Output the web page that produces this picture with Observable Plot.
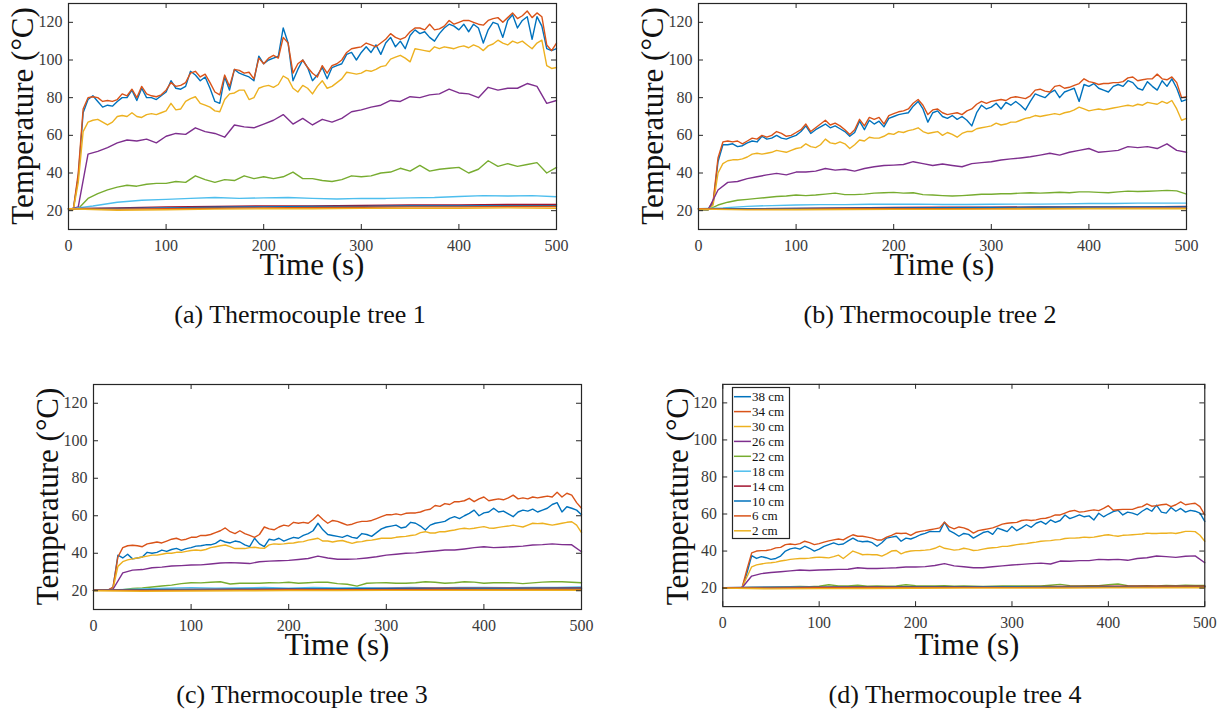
<!DOCTYPE html>
<html><head><meta charset="utf-8">
<script src="https://cdn.jsdelivr.net/npm/d3@7"></script>
<script src="https://cdn.jsdelivr.net/npm/@observablehq/plot@0.6"></script>
<style>
html,body{margin:0;padding:0;background:#fff;}
#page{position:relative;width:1228px;height:711px;overflow:hidden;background:#fff;font-family:"Liberation Serif","Times New Roman",serif;}
#page svg, #page svg text{font-family:"Liberation Serif","Times New Roman",serif !important;}
.panel{position:absolute;}
#overlay{position:absolute;left:0;top:0;}
</style></head><body><div id="page"></div>
<script>
// ---------- series labels, colours, sampling steps (s) ----------
const seriesNames = ["38 cm","34 cm","30 cm","26 cm","22 cm","18 cm","14 cm","10 cm","6 cm","2 cm"];
const seriesColors = ["#0072BD","#D95319","#EDB120","#7E2F8E","#77AC30","#4DBEEE","#A2142F","#0072BD","#D95319","#EDB120"];
const seriesSteps = [5,5,5,10,10,25,50,50,50,50];
const xTicks = [0,100,200,300,400,500];
const yTicks = [20,40,60,80,100,120];
const captions = ["(a) Thermocouple tree 1","(b) Thermocouple tree 2","(c) Thermocouple tree 3","(d) Thermocouple tree 4"];

// ---------- Tree 1 ----------
const a38 = [21,21,38,72,79,81,78,75,76,75.5, 78,80,80,84,78.5,85,80,80,79,81, 83,89,85,84.5,86,94,92,89,91,85, 78,77,91,84,95,93,92,91,89,102, 98,100,101,102,117,109,89,95,100,96, 89,92,96,90,96,97,98,103,104,100, 104,107,104,108,103,109,112,107,110,106, 113,116,114,115,112,110,114,117,119,118, 116,119,115,119,117,109,116,120,119,112, 121,124,117,121,123,111,123,118,106,105, 106];
const a34 = [21,21,40,74,80,80.5,80,78,78.5,78, 79,82,81,84.5,80,86,82,81,80.5,81.5, 84,88,86,86.5,88,93,94,91,92.5,88, 83,81.5,92,86,95,94.5,93,93.5,90,101, 98,101,102.5,101,112,109,93,98,100,96, 93,91,97,93,97,98,100,104,106,106.5, 107,109,108,107,109,111,114,112,111,112, 115,117,117,116,119,116,116.5,118,121,119, 120,121,121,120,119,118.5,121,122,122.5,120, 122.5,125,122,123.5,126,122.5,125,123,108,105, 109];
const a30 = [20.5,20.5,35,62,67,68,68.5,67,65.5,67, 70,70.5,70,72,70,69.5,71,71.5,71,72, 73,77,73.5,74,78,79.5,80.5,77,76,75, 73,72.5,79,82,82.5,84,84,79,80,85, 86,86.5,85.5,87,91.5,90,85,83,86.5,85, 82,86,89,85,86,88,90,93.5,93,92.5, 93,94.5,94,95,96.5,97,100.5,101.5,102.5,101, 99,106,105.5,105,104.5,107,106,107,106.5,106, 107,107.5,106.5,108,107,105,107.5,108.5,110.5,109, 108,110,109,110,108,106,109,110.5,97,95.5, 96];
const a26 = [20.5,22,50,51.5,53.5,56,57.5,57,58,56, 59.5,61,60.5,64,62,61,59,65.5,64.5,64, 66,68,71,66,69,65.5,68.5,67,69,72.5, 73.5,75,76,78.5,78,80.5,80,81.5,82,84.5, 82.5,82,80,85.5,84,85,85,87.5,86,77, 78.5];
const a22 = [20.5,21,26.5,29,31,32.5,33.5,33,34,34.5, 34.5,35.5,35,38.5,36.5,35,36.5,36,38.5,37, 38,37,38,40.5,37,37,36,35.5,36.5,38.5, 38,38.5,40,40.5,42.5,41,44,41,42,42.5, 43,40,42,46.5,43.5,45,43.5,44.5,45.5,40, 43];
const a18 = [20.8,22.5,24.5,25.5,26,26.5,27,26.5,26.8,27,26.5,26.2,26.5,26.5,26.8,27,27.5,28,27.8,28,27.4];
const a14 = [21,21.5,22,22.3,22.5,22.5,22.8,23,23,23.3,23.3];
const a10 = [21,21.2,21.5,21.8,22,22.2,22.3,22.5,22.5,22.6,22.6];
const a6  = [21,20.8,21,21.3,21.5,21.7,21.8,22,22,22.2,22.2];
const a2  = [21,20.2,20.5,20.8,21,21,21.2,21.3,21.3,21.5,21.3];

// ---------- Tree 2 ----------
const b38 = [21,21,21,24,46,55,55,55.5,54,54.5, 56,57,56.5,59.5,58,58.5,60,58.5,58,59, 60,62,65,61,63,64.5,66,64,65,63.5, 62,59.5,61.5,67.5,63,68,66,67.5,64.5,69, 70,71,71.5,72,75.5,78,74,67,72,73, 70,69,70.5,68.5,70,68,65,72,76,74, 75,77,74,77.5,76,78,76,73.5,78,82, 81,80,82.5,84,80,83,84,85,78,87, 86,87.5,85,84,83,86,87,86,89,88, 85,84,88.5,86,84,89,86,90,85,78, 79];
const b34 = [21,21,21,25,48,56.5,57,56.5,57,55.5, 57,58.5,58,60,59,60,62,61,59.5,60, 61.5,63,66,62,64,66,68,65.5,66.5,65, 63,60.5,63,68.5,65,69.5,68.5,69.5,66,70.5, 71.5,72.5,73,74,77,79,76,71,73.5,74, 72,71,71.5,72,71,73,74,76.5,78,77, 78,78.5,79,78.5,80,80.5,80,79.5,81,84, 84.5,83.5,83,86,86.5,85,85.5,86.5,87.5,90, 88.5,88,87,87.5,87.5,88,88,88.5,90.5,91, 89,89.5,90,90,92.5,90,89.5,91,88,80, 80.5];
const b30 = [20.5,20.5,20.5,23,40,45,46.5,47,47,47.5, 48.5,50,50.5,50,50.5,51,52,51.5,51,52, 53,53.5,55.5,54,53.5,55,58,56,55.5,56.5, 55.5,53,55,57.5,57,59,58.5,58.5,59.5,61, 60.5,62,61.5,62.5,63,64,62,61,61.5,62, 60,61.5,60.5,59,61,62,62,63.5,64,64.5, 65,66.5,65.5,66,67,67,68,69,69.5,70.5, 70,70.5,71,71.5,71,72,72.5,73.5,75,74, 73,73.5,74,73.5,74,74.5,75,75.5,76,75.5, 76.5,76,77.5,77,76.5,78,77,78.5,74,68, 69];
const b26 = [20.5,20.5,31,35,35.5,37,38,39,39.8,39, 40.5,40.5,41,42.4,41.5,42,41,42.4,43.3,44, 44.2,44.5,46,45,44,44.8,44,43.3,45,45.5, 46,46.9,47.5,48,48.6,49.5,50.5,49.5,51,52, 53,51,51.5,52,54,53.5,54,53,55.5,52, 51];
const b22 = [20.5,20.5,23,24.5,25.5,26,26.5,27,27.5,27.8, 28.3,28,28.3,28.8,29.3,28.5,28.5,28.8,29.3,29.5, 29.7,29.3,29.5,28.5,28.3,28,27.8,28,28.3,28.7, 28.7,29,29,29.3,29.5,29.3,29.5,29.8,29.5,30, 30,29.7,29.5,30,30.4,30.2,30.3,30.5,30.8,30.5, 28.8];
const b18 = [21,21.5,22.3,22.7,23,23.2,23.2,23.4,23.4,23.5,23.3,23.3,23.4,23.5,23.5,23.6,23.8,23.8,24,24,24];
const b14 = [21,21,21.2,21.5,21.7,21.8,21.8,22,22,22,22.2];
const b10 = [21,21,21.2,21.3,21.5,21.6,21.7,21.8,21.9,22,22];
const b6  = [21,20.7,20.8,21,21,21,21.1,21.2,21.2,21.3,21.3];
const b2  = [20.8,20.4,20.5,20.6,20.7,20.7,20.8,20.9,21,21,21];

// ---------- Tree 3 ----------
const c38 = [20.3,20.3,20.3,20.3,21.5,39,37.5,39.5,37,37.5, 38,40.5,40,40.5,41.7,41,42,42.6,41.5,42.5, 43,43.8,44,44.5,44.5,45.3,47,46,45.5,46.5, 46,44.5,43.5,48,45,43.5,47.5,47,48,46.5, 47.5,48.5,48,49.5,50.5,52,56,52.5,50,49.5, 49,48.5,49.5,48.5,48,50.5,50,49,51,53, 54,54.5,55,53.5,54,56.5,56,54.5,52.4,55, 56,56.5,57,58.6,59.5,58.5,60,61.3,63,60, 61.5,62,64,62,62.5,61,59.5,62,63,62.5, 63.5,62,63,64,66,67,62,64.8,64,63, 60.5];
const c34 = [20.3,20.3,20.3,20.3,22,38,43,44,44.3,44, 43.5,45,45.5,46,45.5,46.5,47.5,48,47,47.5, 48.5,48.5,49.5,49.5,50,51,52,53.5,51.5,50.5, 52,50.5,49.5,48.5,50,54,53,52.5,54,55, 54.5,56.5,56,56.5,56,58,60.5,58,56,57.5, 57,56,55,55.5,56.5,57,57,57.5,58.5,59.5, 60.5,60.5,61,60.5,61.3,61.5,61.5,62,63,63.5, 65.5,65,66.5,66,67.5,67.5,68,69.3,67.5,69, 70,68,68.5,69,68.5,69.5,71,69,69.5,69, 70,69.5,70,70.5,70,72.5,70,72,71,67, 64];
const c30 = [20.3,20.3,20.3,20.3,21,33,35.5,36.5,37,37.5, 38,38.5,39,39,39.5,40,40,40.5,40.5,41, 41.5,41.7,41.5,42,43,43.5,44,44.4,43.5,42.5, 42.5,42.5,43,43.2,42.8,42.6,44.5,45,44.8,45, 45.3,45.5,46,46.2,47,47.5,48,46.5,46.5,46, 46.5,46.8,46,45.3,46,46.2,46.8,47,47.5,48, 48,48,48.5,48.8,49,49.5,49.8,51,51.5,50.8, 50.8,51.5,51.5,52,52.4,53,53.3,53,53.3,53.8, 54.2,53.5,53.3,53.8,54.2,54.5,55,54.5,54,55, 56,55.8,56,55.5,55,55.5,56,56.5,56.8,55, 51];
const c26 = [20.3,20.3,20.8,29.5,31,31.3,32.3,32.6,33.2,33.4, 33.7,33.8,34.3,34.8,35,34.8,34.5,35.5,35.8,36, 36.2,36.7,37.2,38.5,37.5,36.8,36.8,37,37.5,38.1, 39,39.5,40,40.2,40.8,41.2,41.7,41.7,42.3,43, 43.5,43,43.2,43.5,43.8,44.4,44.6,45,44.6,44.5, 40.8];
const c22 = [20.3,20.3,20.3,20.6,21.2,21.5,22,22.5,23,23.8, 24.3,24.2,24.5,24.8,23.6,24,24,24,24.3,24.2, 24.5,24,24.3,24.6,24.5,23.8,23.5,22.5,24,24.2, 24.3,24,24,24.3,24.8,24.5,24,24.3,24.8,24.6, 24,24.3,24.3,24.2,23.8,24.2,24.6,24.8,24.8,24.5, 24.3];
const c18 = [20.3,20.5,21,21.3,21.6,21.4,21.5,21.7,21.4,21.8,21.5,21.6,21.5,21.8,21.5,21.7,21.8,21.6,21.8,21.7,22];
const c14 = [20.3,20.5,20.7,20.8,21,21,21.2,21.3,21.3,21.4,21.5];
const c10 = [20.3,20.4,20.6,20.8,20.8,20.9,21,21,21.1,21.2,21.2];
const c6  = [20.3,20.2,20.3,20.4,20.5,20.5,20.6,20.7,20.7,20.8,20.8];
const c2  = [20,19.7,19.9,20,20.1,20.1,20.2,20.2,20.3,20.3,20.3];

// ---------- Tree 4 ----------
const d38 = [20.2,20.2,20.2,20.2,20.2,28,37.5,36,37,36.4, 35.5,36,37.3,40,41.2,41.7,41,42.6,41.5,40, 41,42.5,43.5,44.4,43.5,43.8,45.5,47,45.5,45, 45.3,44.5,42.6,44.5,47,47.5,48,45.3,47,46.5, 47.5,48.8,49.5,50.6,50.5,50.5,55.6,51,49.7,48, 49.5,49,47,48.5,50,50.6,49,52.4,51.5,50.5, 53.3,51,52.5,54.2,52.8,55,56,54.5,56.8,55.5, 56.5,59.5,57.5,58.5,59.5,58.5,59,56.8,60.4,58.5, 60,61.3,62,59.5,61,60.5,59.5,61.5,63,61.5, 64.8,61,60.5,63.5,61.5,63,61,62,61.5,60.5, 56];
const d34 = [20.2,20.2,20.2,20.2,20.2,30,39,40,40.2,40.3, 40.8,41.7,42,43.5,43.8,43.5,44,45.3,44.5,43.5, 44,44.8,45.5,46,46.5,46,47.5,48.8,48,48, 47.5,47,46,46,47.5,48.5,49.7,49.5,49.7,48.5, 50,50.6,51,51.5,52,52.5,55.6,53,52,53, 52.5,51.5,49.7,51,51.5,52,52.5,53.5,54.5,55, 55.3,55.5,56.5,56.8,56.5,56.8,57.5,57.7,58.5,59.5, 59.5,60.5,61.5,62,61,61.3,61.8,62.2,61.8,63, 64.5,62,62.3,62.5,62.5,62.5,63.5,64,65.5,64.2, 64.5,65,65.3,64,65,66.5,65,65.5,65.8,64, 59.5];
const d30 = [20.2,20.2,20.2,20.2,20.2,26,31.5,32.5,33,33.5, 33.7,34,34.6,35,35.5,35.8,36,36,36.2,36.5, 36.7,36.5,36.3,37,37.8,36,38,40,39,38, 38.2,38,38,37.3,38.5,40,40.3,38.5,39.5,40, 40.2,40.3,40.5,40.8,41.5,42.6,41.5,41,40.5,40.8, 41.5,41,40.3,40.5,41,41.5,41.8,42,42.5,42.5, 43,43.5,43.8,44,44.5,44.8,45.3,45.5,45.6,46, 46.2,46.8,47,47,47.2,47.5,47.3,47.5,48,48.5, 48.8,48.3,48,48.5,48.6,48.8,49,49.2,49.7,49.5, 49.5,49.7,49.6,49.8,49.5,50,50.6,50.6,50.5,48.5, 45.3];
const d26 = [20.2,20.2,20.2,26.5,27.8,28.4,28.8,29.3,29.8,29.5, 29.8,29.9,30.1,30.2,31,30.6,30.6,30.8,31,31.4, 31.4,31.6,32.2,33.2,32,31.5,31,31,31.5,32, 32.5,32.8,33.2,33.5,33,34.6,34.5,34.8,34.8,35.5, 35.3,35.5,35,36,36.4,37.3,37,36.6,37.2,37.4, 33.7];
const d22 = [20.2,20.2,20.2,20.3,20.3,20.5,20.6,20.8,20.9,20.8, 21,21.8,21.2,21.2,21.5,21,21.2,21,21.2,21.8, 21.3,21.2,21.1,21.3,21,21.1,21,20.9,21,21.1, 21.2,21.1,21.2,21.1,21.5,22,21.3,21.2,21.3,21.3, 21.8,22.2,21.3,21.2,21.3,21.2,21.4,21.3,21.5,21.4, 21.4];
const d18 = [20.2,20.3,20.5,20.6,20.4,20.7,20.5,20.4,20.6,20.8,20.5,20.6,20.8,20.6,20.7,20.6,20.8,20.6,20.8,20.9,20.8];
const d14 = [20.2,20.3,20.5,20.6,20.7,20.7,20.8,20.9,21,21,21];
const d10 = [20.2,20.3,20.4,20.5,20.6,20.6,20.7,20.7,20.8,20.8,20.8];
const d6  = [20.2,20.1,20.2,20.3,20.3,20.4,20.4,20.5,20.5,20.6,20.6];
const d2  = [20,19.6,19.7,19.8,19.9,20,20,20,20.1,20.1,20.2];

// ---------- layout ----------
const FW = 488;
const panels = [
  {left:68,  top:3,   h:226, capX:300, series:[a38,a34,a30,a26,a22,a18,a14,a10,a6,a2]},
  {left:698, top:3,   h:226, capX:930, series:[b38,b34,b30,b26,b22,b18,b14,b10,b6,b2]},
  {left:93,  top:384, h:225, capX:302, series:[c38,c34,c30,c26,c22,c18,c14,c10,c6,c2]},
  {left:723, top:384, h:225, capX:955, series:[d38,d34,d30,d26,d22,d18,d14,d10,d6,d2]}
];
const mL = 60, mR = 24, mT = 10, mB = 32;
const page = document.getElementById("page");
const axisColor = "#262626";
const serif = '"Liberation Serif","Times New Roman",serif';

panels.forEach((p) => {
  const marks = [];
  p.series.forEach((vals, i) => {
    const rows = vals.map((v, j) => ({t: j * seriesSteps[i], v}));
    marks.push(Plot.line(rows, {x: "t", y: "v", stroke: seriesColors[i], strokeWidth: 1.4}));
  });
  marks.push(Plot.tickY(yTicks, {y: d => d, insetRight: FW - 5, stroke: axisColor}));
  marks.push(Plot.tickY(yTicks, {y: d => d, insetLeft: FW - 5, stroke: axisColor}));
  marks.push(Plot.tickX(xTicks, {x: d => d, insetTop: p.h - 5, stroke: axisColor}));
  marks.push(Plot.tickX(xTicks, {x: d => d, insetBottom: p.h - 5, stroke: axisColor}));
  marks.push(Plot.frame({stroke: axisColor, strokeWidth: 1.2}));
  marks.push(Plot.axisX(xTicks, {tickSize: 0, tickPadding: 10, label: null, fontSize: 16, fill: "#3a3a3a"}));
  marks.push(Plot.axisY(yTicks, {tickSize: 0, tickPadding: 6, label: null, fontSize: 16, fill: "#3a3a3a"}));
  const svg = Plot.plot({
    width: FW + mL + mR, height: p.h + mT + mB,
    marginLeft: mL, marginRight: mR, marginTop: mT, marginBottom: mB,
    x: {domain: [0, 500]}, y: {domain: [10, 130]},
    style: {fontFamily: serif, fontSize: "16px", color: "#3a3a3a", background: "transparent", overflow: "visible"},
    marks
  });
  svg.querySelectorAll("text").forEach(t => t.setAttribute("font-family", serif));
  const div = document.createElement("div");
  div.className = "panel";
  div.style.left = (p.left - mL) + "px";
  div.style.top = (p.top - mT) + "px";
  div.appendChild(svg);
  page.appendChild(div);
});

// ---------- text overlay: axis titles, captions, legend ----------
const ov = d3.select(page).append("svg").attr("id", "overlay")
  .attr("width", 1228).attr("height", 711)
  .attr("font-family", serif);
panels.forEach((p, k) => {
  const cx = p.left + FW / 2, cy = p.top + p.h / 2, bottom = p.top + p.h;
  ov.append("text").attr("transform", `translate(${p.left - 35},${cy}) rotate(-90)`)
    .attr("text-anchor", "middle").attr("font-size", 31).attr("fill", "#111").text("Temperature (°C)");
  ov.append("text").attr("x", cx).attr("y", bottom + 46)
    .attr("text-anchor", "middle").attr("font-size", 31).attr("fill", "#111").text("Time (s)");
  ov.append("text").attr("x", p.capX).attr("y", bottom + 94)
    .attr("text-anchor", "middle").attr("font-size", 26).attr("fill", "#111").text(captions[k]);
});
// legend in tree 4
const lg = ov.append("g");
lg.append("rect").attr("x", 732.5).attr("y", 387.5).attr("width", 57).attr("height", 151)
  .attr("fill", "#fff").attr("stroke", axisColor).attr("stroke-width", 1.2);
seriesNames.forEach((name, i) => {
  const y = 396.7 + i * 14.9;
  lg.append("line").attr("x1", 734).attr("x2", 751).attr("y1", y).attr("y2", y)
    .attr("stroke", seriesColors[i]).attr("stroke-width", 1.5);
  lg.append("text").attr("x", 752).attr("y", y + 4.5).attr("font-size", 13).attr("fill", "#111").text(name);
});
</script></body></html>
